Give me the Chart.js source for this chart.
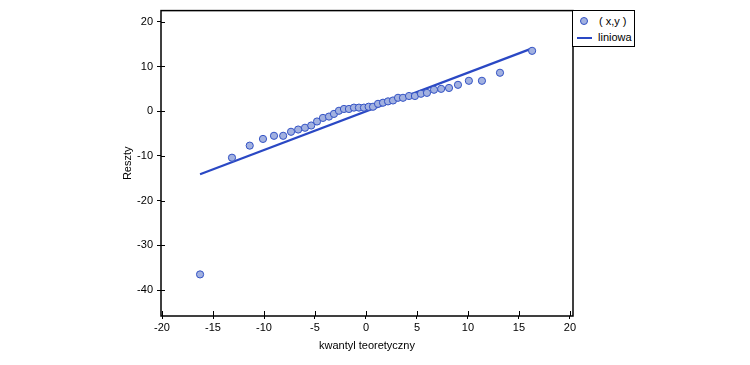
<!DOCTYPE html>
<html>
<head>
<meta charset="utf-8">
<script src="https://cdn.jsdelivr.net/npm/chart.js@4"></script>
<style>
    body { margin: 0; background: #fff; }
    #wrap { position: relative; width: 750px; height: 365px; }
    #legend {
        position: absolute; left: 572px; top: 10px; width: 61px; height: 35px;
        border: 1px solid #000; background: #fff;
        font: 11px "Liberation Sans", Arial, sans-serif; color: #000;
    }
    #legend .row { position: absolute; left: 0; height: 14px; line-height: 14px; }
    #legend .dot {
        position: absolute; left: 7px; top: 3px; width: 6px; height: 6px;
        border-radius: 50%; background: #a2b1e0; border: 1px solid #3352c4;
    }
    #legend .ln { position: absolute; left: 4px; top: 7px; width: 15px; height: 2px; background: #2a48c4; }
    #legend .txt { position: absolute; white-space: nowrap; }
</style>
</head>
<body>
<div id="wrap">
    <canvas id="myChart" width="750" height="365"></canvas>
    <div id="legend">
        <div class="row" style="top:3px;width:60px"><span class="dot"></span><span class="txt" style="left:26px">( x,y )</span></div>
        <div class="row" style="top:19px;width:60px"><span class="ln"></span><span class="txt" style="left:25px">liniowa</span></div>
    </div>
</div>
<script>
// theoretical quantiles (x) and residuals (y)
var quantiles = [-16.27, -13.14, -11.40, -10.10, -9.02, -8.12, -7.35, -6.65, -5.98, -5.37,
    -4.80, -4.22, -3.63, -3.14, -2.65, -2.16, -1.67, -1.18, -0.69, -0.20,
    0.26, 0.69, 1.18, 1.67, 2.16, 2.65, 3.14, 3.63, 4.22, 4.80,
    5.39, 5.98, 6.67, 7.37, 8.14, 9.02, 10.09, 11.37, 13.14, 16.29];
var residuals = [-36.5, -10.4, -7.7, -6.2, -5.5, -5.5, -4.6, -4.1, -3.7, -3.2,
    -2.3, -1.5, -1.2, -0.6, 0.1, 0.5, 0.5, 0.8, 0.8, 0.8,
    1.0, 1.0, 1.65, 1.9, 2.2, 2.4, 3.0, 3.0, 3.4, 3.4,
    3.9, 4.1, 4.8, 5.0, 5.2, 5.9, 6.8, 6.8, 8.6, 13.5];
var lineX = [-16.27, 16.29];
var lineY = [-14.1, 14.05];

var pointData = quantiles.map(function(x, i) { return { x: x, y: residuals[i] }; });
var lineData = lineX.map(function(x, i) { return { x: x, y: lineY[i] }; });

var fontFamily = '"Liberation Sans", Arial, sans-serif';

// frame round the plot area plus the inner half of each tick
var framePlugin = {
    id: 'frame',
    afterDraw: function(chart) {
        var ctx = chart.ctx;
        var a = chart.chartArea;
        ctx.save();
        ctx.strokeStyle = '#000';
        ctx.lineWidth = 1.5;
        ctx.strokeRect(a.left, a.top, a.right - a.left, a.bottom - a.top);
        ctx.lineWidth = 1;
        chart.scales.x.ticks.forEach(function(t) {
            var px = Math.round(chart.scales.x.getPixelForValue(t.value)) + 0.5;
            ctx.beginPath();
            ctx.moveTo(px, a.bottom);
            ctx.lineTo(px, a.bottom - 5);
            ctx.stroke();
        });
        chart.scales.y.ticks.forEach(function(t) {
            var py = Math.round(chart.scales.y.getPixelForValue(t.value)) + 0.5;
            ctx.beginPath();
            ctx.moveTo(a.left, py);
            ctx.lineTo(a.left + 4, py);
            ctx.stroke();
        });
        ctx.restore();
    }
};

var ctx = document.getElementById('myChart').getContext('2d');
var chart = new Chart(ctx, {
    type: 'scatter',
    data: {
        datasets: [
            {
                label: '( x,y )',
                data: pointData,
                backgroundColor: '#a2b1e0',
                borderColor: '#3352c4',
                borderWidth: 1,
                pointRadius: 3.6
            },
            {
                type: 'line',
                label: 'liniowa',
                data: lineData,
                borderColor: '#2a48c4',
                borderWidth: 2.2,
                pointRadius: 0,
                fill: false,
                tension: 0
            }
        ]
    },
    options: {
        responsive: false,
        animation: false,
        layout: {
            padding: { left: 117, right: 177, top: 10, bottom: 8 }
        },
        scales: {
            x: {
                type: 'linear',
                min: -20.1,
                max: 20.3,
                afterFit: function(scale) { scale.height = 41; },
                border: { display: false },
                grid: { drawOnChartArea: false, drawTicks: true, tickLength: 3, color: '#000' },
                ticks: {
                    stepSize: 5,
                    includeBounds: false,
                    color: '#000',
                    padding: 2,
                    maxRotation: 0,
                    font: { family: fontFamily, size: 11 }
                },
                title: {
                    display: true,
                    text: 'kwantyl teoretyczny',
                    color: '#000',
                    font: { family: fontFamily, size: 11 }
                }
            },
            y: {
                min: -45.8,
                max: 22.5,
                afterFit: function(scale) { scale.width = 44; },
                border: { display: false },
                grid: { drawOnChartArea: false, drawTicks: true, tickLength: 4, color: '#000' },
                ticks: {
                    stepSize: 10,
                    includeBounds: false,
                    color: '#000',
                    padding: 4,
                    font: { family: fontFamily, size: 11 }
                },
                title: {
                    display: true,
                    text: 'Reszty',
                    color: '#000',
                    font: { family: fontFamily, size: 11 }
                }
            }
        },
        plugins: {
            legend: { display: false },
            tooltip: { enabled: false }
        }
    },
    plugins: [framePlugin]
});
</script>
</body>
</html>
